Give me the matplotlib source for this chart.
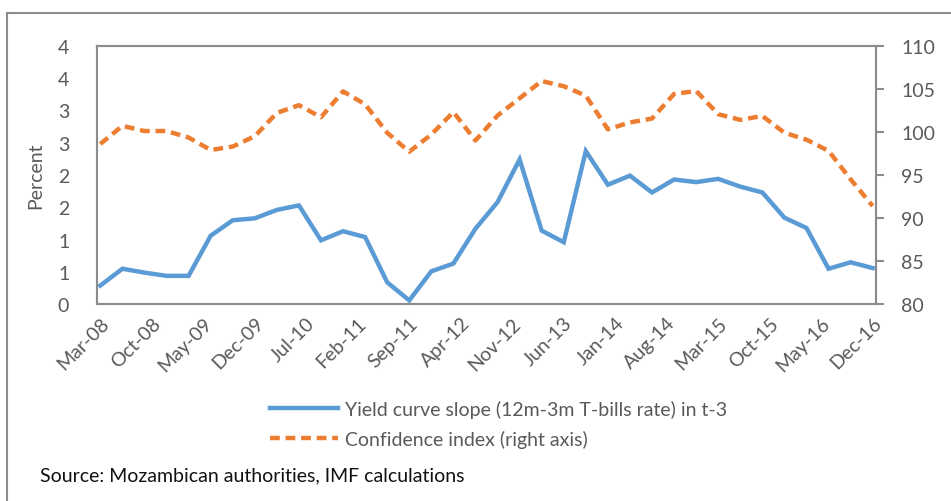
import matplotlib
matplotlib.use("Agg")
import matplotlib.pyplot as plt
import matplotlib.patches as mpatches
import numpy as np

# Quarterly observations, Mar-08 .. Dec-16
start_year, start_month = 2008, 3
yield_slope = [0.29, 0.55, 0.49, 0.44, 0.44, 1.06, 1.30, 1.33, 1.46, 1.53,
               0.99, 1.13, 1.04, 0.34, 0.06, 0.51, 0.63, 1.17, 1.58, 2.24,
               1.14, 0.96, 2.37, 1.85, 1.99, 1.73, 1.93, 1.89, 1.94, 1.82,
               1.73, 1.34, 1.18, 0.55, 0.65, 0.56]
confidence = [98.6, 100.7, 100.1, 100.1, 99.35, 97.9, 98.3, 99.5, 102.2, 103.1,
              101.7, 104.7, 103.2, 99.9, 97.7, 99.7, 102.3, 99.0, 101.9, 103.9,
              105.9, 105.3, 104.2, 100.3, 101.1, 101.55, 104.4, 104.75, 102.05, 101.4,
              101.85, 99.9, 99.1, 97.8, 94.5, 91.4]
x_labels = ["Mar-08", "Oct-08", "May-09", "Dec-09", "Jul-10", "Feb-11", "Sep-11",
            "Apr-12", "Nov-12", "Jun-13", "Jan-14", "Aug-14", "Mar-15", "Oct-15",
            "May-16", "Dec-16"]
left_ticks = [0, 0.5, 1, 1.5, 2, 2.5, 3, 3.5, 4]
left_tick_labels = ["0", "1", "1", "2", "2", "3", "3", "4", "4"]
right_ticks = [80, 85, 90, 95, 100, 105, 110]

months = np.arange(len(yield_slope)) * 3  # month offsets from Mar-08
label_months = np.arange(len(x_labels)) * 7

plt.rcParams['font.family'] = ['Lato', 'DejaVu Sans']
W, H = 951, 502
fig = plt.figure(figsize=(W / 100, H / 100), dpi=100)

# outer chart border
fig.patches.append(mpatches.Rectangle((7 / W, -0.1), 1.2, 1.1 - 14 / H,
                                      transform=fig.transFigure, fill=False,
                                      edgecolor='#8c8c8c', linewidth=1.5))

left, right, top, bottom = 97, 876, 46.7, 305.3
ax = fig.add_axes([left / W, 1 - bottom / H, (right - left) / W, (bottom - top) / H])
ax2 = ax.twinx()

gray = '#595959'
frame = '#8c8c8c'
fs = 14
l1, = ax.plot(months, yield_slope, color='#5B9BD5', lw=3.2, solid_joinstyle='miter',
              label='Yield curve slope (12m-3m T-bills rate) in t-3')
l2, = ax2.plot(months, confidence, color='#ED7D31', lw=3.2, linestyle=(0, (2.2, 1.3)),
               label='Confidence index (right axis)')

ax.set_xlim(-0.45, 105.45)
ax.set_ylim(0, 4)
ax2.set_ylim(80, 110)

ax.set_yticks(left_ticks)
ax.set_yticklabels(left_tick_labels)
ax2.set_yticks(right_ticks)
ax.set_xticks(label_months)
ax.set_xticklabels(x_labels, rotation=45, ha='right', rotation_mode='anchor')

for a in (ax, ax2):
    for s in a.spines.values():
        s.set_color(frame)
        s.set_linewidth(1.5)
ax.tick_params(axis='y', length=0, pad=20, labelsize=fs, labelcolor=gray)
ax.tick_params(axis='x', length=0, pad=7, labelsize=fs, labelcolor=gray)
ax2.tick_params(axis='y', length=6, width=1.5, color=frame, pad=12, labelsize=fs,
                labelcolor=gray, direction='out')

ax.set_ylabel('Percent', fontsize=fs, color=gray, labelpad=10)

fig.legend(handles=[l1, l2], loc='upper left', bbox_to_anchor=(262 / W, 1 - 393 / H),
           frameon=False, fontsize=fs, labelcolor=gray, handlelength=3.5,
           handletextpad=0.35, labelspacing=0.6, borderaxespad=0)

fig.text(40 / W, 1 - 476 / H, 'Source: Mozambican authorities, IMF calculations',
         fontsize=fs, color='#111111', va='center', ha='left')

fig.savefig('out.png', dpi=100)
